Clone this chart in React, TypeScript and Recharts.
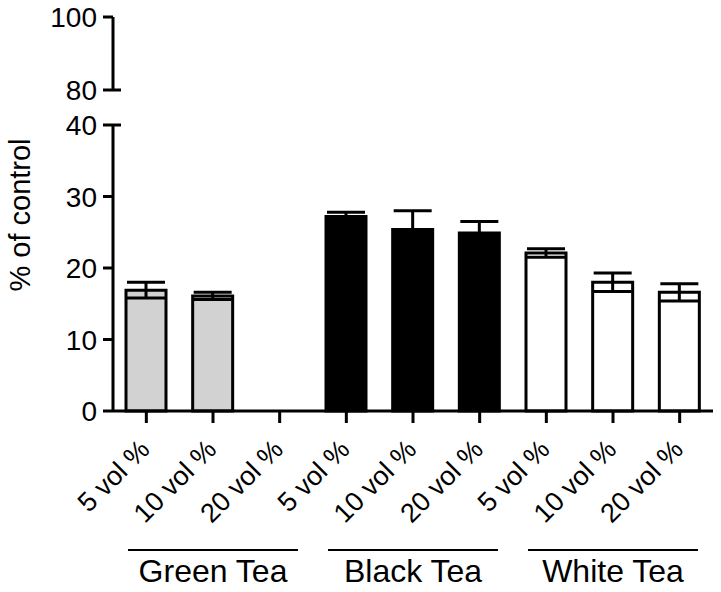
import { Bar, BarChart, Cell, ErrorBar, XAxis, YAxis } from "recharts";

const teaGroups = ["Green Tea", "Black Tea", "White Tea"];
const doses = ["5 vol %", "10 vol %", "20 vol %"];
const greenMeans = [16.9, 16.1, 0];
const greenErr = [1.1, 0.5, 0];
const blackMeans = [27.2, 25.4, 24.9];
const blackErr = [0.6, 2.6, 1.6];
const whiteMeans = [22.1, 18.0, 16.6];
const whiteErr = [0.6, 1.3, 1.2];
const lowTicks = [0, 10, 20, 30, 40];
const highTicks = [80, 100];
const groupFills = ["#d2d2d2", "#000000", "#ffffff"];

const FONT = "'Liberation Sans', Arial, Helvetica, sans-serif";

const means = [greenMeans, blackMeans, whiteMeans];
const errs = [greenErr, blackErr, whiteErr];
const chartData = teaGroups.flatMap((g, gi) =>
  doses.map((d, di) => ({
    key: `${g} ${d}`,
    dose: d,
    group: g,
    groupIndex: gi,
    mean: means[gi][di],
    err: errs[gi][di],
  }))
);

const W = 721;
const AXIS_W = 113;
const RIGHT = 8;

function YTick(props: any) {
  const { x, y, payload } = props;
  const axisX = x + 16;
  const isBreak = payload.value === 80 || payload.value === 40;
  return (
    <g>
      {isBreak && (
        <line x1={axisX} x2={axisX + 8} y1={y} y2={y} stroke="#000" strokeWidth={3} />
      )}
      <text x={x} y={y} dy="0.36em" textAnchor="end" fontSize={28} fontFamily={FONT} fill="#000">
        {payload.value}
      </text>
    </g>
  );
}

function XTick(props: any) {
  const { x, y, index } = props;
  const row = chartData[index];
  const axisY = y - 16;
  const ax = x + 5;
  const ay = axisY + 40;
  return (
    <g>
      <text
        x={ax}
        y={ay}
        textAnchor="end"
        fontSize={27}
        fontFamily={FONT}
        fill="#000"
        transform={`rotate(-45, ${ax}, ${ay})`}
      >
        {row.dose}
      </text>
      {index % 3 === 1 && (
        <g>
          <line x1={x - 85} x2={x + 85} y1={axisY + 139} y2={axisY + 139} stroke="#000" strokeWidth={2} />
          <text x={x} y={axisY + 171} textAnchor="middle" fontSize={32} fontFamily={FONT} fill="#000">
            {row.group}
          </text>
        </g>
      )}
    </g>
  );
}

function AxisTitle(props: any) {
  const { viewBox } = props;
  const bx = viewBox.x + 30;
  const cy = viewBox.y + viewBox.height / 2 - 53;
  return (
    <text
      x={bx}
      y={cy}
      textAnchor="middle"
      fontSize={29}
      fontFamily={FONT}
      fill="#000"
      transform={`rotate(-90, ${bx}, ${cy})`}
    >
      % of control
    </text>
  );
}

export default function App() {
  return (
    <div style={{ position: "relative", width: W, height: 592, background: "#fff" }}>
      <style>{`body{margin:0}`}</style>
      {/* lower segment */}
      <div style={{ position: "absolute", left: 0, top: 0 }}>
        <BarChart width={W} height={592} data={chartData} margin={{ top: 125, right: RIGHT, left: 0, bottom: 0 }} barSize={40}>
          <XAxis
            dataKey="key"
            interval={0}
            height={181}
            axisLine={{ stroke: "#000", strokeWidth: 3 }}
            tickLine={{ stroke: "#000", strokeWidth: 3 }}
            tickSize={12}
            tickMargin={4}
            tick={<XTick />}
          />
          <YAxis
            width={AXIS_W}
            domain={[0, 40]}
            ticks={lowTicks}
            interval={0}
            axisLine={{ stroke: "#000", strokeWidth: 3 }}
            tickLine={{ stroke: "#000", strokeWidth: 3 }}
            tickSize={10}
            tickMargin={6}
            tick={<YTick />}
            label={<AxisTitle />}
          />
          <Bar dataKey="mean" stroke="#000" strokeWidth={3} isAnimationActive={false}>
            {chartData.map((row) => (
              <Cell key={row.key} fill={groupFills[row.groupIndex]} />
            ))}
            <ErrorBar dataKey="err" width={19} stroke="#000" strokeWidth={3} />
          </Bar>
        </BarChart>
      </div>
      {/* upper segment of the broken axis */}
      <div style={{ position: "absolute", left: 0, top: 0 }}>
        <BarChart width={W} height={118} data={chartData} margin={{ top: 17, right: RIGHT, left: 0, bottom: 28 }}>
          <XAxis dataKey="key" hide />
          <YAxis
            width={AXIS_W}
            domain={[80, 100]}
            ticks={highTicks}
            allowDataOverflow
            interval={0}
            axisLine={{ stroke: "#000", strokeWidth: 3 }}
            tickLine={{ stroke: "#000", strokeWidth: 3 }}
            tickSize={10}
            tickMargin={6}
            tick={<YTick />}
          />
          <Bar dataKey="mean" fill="none" isAnimationActive={false} />
        </BarChart>
      </div>
    </div>
  );
}
